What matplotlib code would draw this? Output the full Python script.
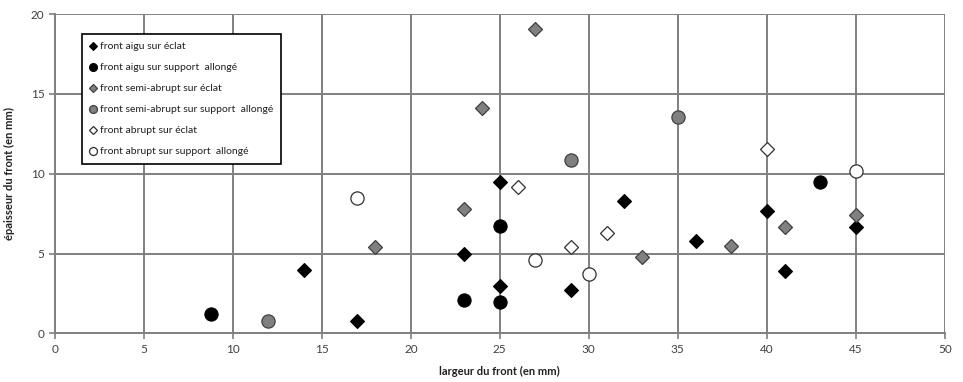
import matplotlib
matplotlib.use("Agg")
from matplotlib import pyplot as plt

plt.rcParams['font.family'] = ['Lato', 'DejaVu Sans']

# front aigu sur éclat
aigu_eclat_x = [14, 17, 23, 25, 25, 29, 32, 36, 40, 41, 45]
aigu_eclat_y = [4.0, 0.8, 5.0, 9.5, 3.0, 2.75, 8.3, 5.8, 7.7, 3.9, 6.7]
# front aigu sur support allongé
aigu_supp_x = [8.75, 23, 25, 25, 43]
aigu_supp_y = [1.2, 2.1, 6.75, 2.0, 9.5]
# front semi-abrupt sur éclat
semi_eclat_x = [18, 23, 24, 27, 33, 38, 41, 45]
semi_eclat_y = [5.4, 7.8, 14.1, 19.1, 4.8, 5.5, 6.7, 7.45]
# front semi-abrupt sur support allongé
semi_supp_x = [12, 29, 35]
semi_supp_y = [0.8, 10.85, 13.55]
# front abrupt sur éclat
abr_eclat_x = [26, 29, 31, 40]
abr_eclat_y = [9.2, 5.4, 6.3, 11.55]
# front abrupt sur support allongé
abr_supp_x = [17, 27, 30, 45]
abr_supp_y = [8.5, 4.6, 3.7, 10.15]

fig = plt.figure(figsize=(9.63, 3.82), dpi=100)
ax = fig.add_axes([0.057, 0.127, 0.924, 0.836])

grid_c = '#808080'
ax.grid(True, color=grid_c, linewidth=1.4, zorder=0)
ax.set_axisbelow(True)

dms, cms = 7, 9.5
ax.plot(aigu_eclat_x, aigu_eclat_y, 'D', ms=dms, mfc='black', mec='black', mew=0.8,
        ls='none', label='front aigu sur éclat', zorder=3)
ax.plot(aigu_supp_x, aigu_supp_y, 'o', ms=cms, mfc='black', mec='black', mew=0.8,
        ls='none', label='front aigu sur support  allongé', zorder=3)
ax.plot(semi_eclat_x, semi_eclat_y, 'D', ms=dms, mfc='#808080', mec='#404040', mew=0.9,
        ls='none', label='front semi-abrupt sur éclat', zorder=3)
ax.plot(semi_supp_x, semi_supp_y, 'o', ms=cms, mfc='#808080', mec='#404040', mew=0.9,
        ls='none', label='front semi-abrupt sur support  allongé', zorder=3)
ax.plot(abr_eclat_x, abr_eclat_y, 'D', ms=dms, mfc='white', mec='#303030', mew=0.9,
        ls='none', label='front abrupt sur éclat', zorder=3)
ax.plot(abr_supp_x, abr_supp_y, 'o', ms=cms, mfc='white', mec='#303030', mew=0.9,
        ls='none', label='front abrupt sur support  allongé', zorder=3)

ax.set_xlim(0, 50)
ax.set_ylim(0, 20)
ax.set_xticks(range(0, 51, 5))
ax.set_yticks(range(0, 21, 5))
ax.tick_params(axis='both', colors=grid_c, labelcolor='#404040', labelsize=8.5,
               length=4, width=1.2, direction='out')
for side in ('top', 'right'):
    ax.spines[side].set_visible(False)
for side in ('left', 'bottom'):
    ax.spines[side].set_color(grid_c)
    ax.spines[side].set_linewidth(1.4)

ax.set_xlabel('largeur du front (en mm)', fontsize=8, fontweight='bold',
              color='#202020', labelpad=8)
ax.set_ylabel('épaisseur du front (en mm)', fontsize=8, fontweight='bold',
              color='#202020', labelpad=11)

leg = ax.legend(loc='upper left', bbox_to_anchor=(0.031, 0.937), borderaxespad=0,
                fontsize=7.5, markerscale=0.6, handlelength=0.6, handletextpad=0.3,
                labelspacing=1.12, borderpad=0.75, fancybox=False, framealpha=1,
                edgecolor='black')
leg.get_frame().set_linewidth(1.2)
for t in leg.get_texts():
    t.set_color('#202020')

fig.savefig('out.png', dpi=100)
